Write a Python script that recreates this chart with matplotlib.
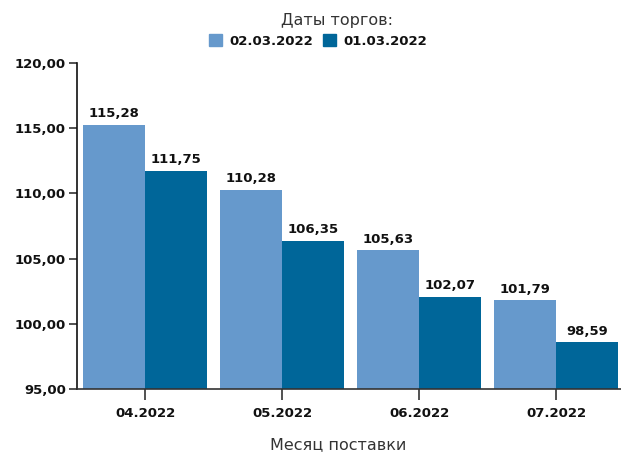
import matplotlib
matplotlib.use('Agg')
import matplotlib.pyplot as plt
import matplotlib.patches as mpatches
import numpy as np

months = ['04.2022', '05.2022', '06.2022', '07.2022']
series_names = ['02.03.2022', '01.03.2022']
vals_0203 = [115.28, 110.28, 105.63, 101.79]
vals_0103 = [111.75, 106.35, 102.07, 98.59]
y_ticks = [95, 100, 105, 110, 115, 120]

colors = ['#6699cc', '#006699']
plt.rcParams['font.family'] = ['DejaVu Sans']

W, H = 621, 455
fig = plt.figure(figsize=(W / 100, H / 100), dpi=100)
ax = fig.add_axes([77 / W, (H - 389) / H, (624.5 - 77) / W, (389 - 63) / H])

x = np.arange(len(months))
bw = 62 / 137
for vals, off, c in [(vals_0203, -bw / 2, colors[0]), (vals_0103, bw / 2, colors[1])]:
    bars = ax.bar(x + off, [v - 95 for v in vals], bw, bottom=95, color=c, linewidth=0)
    for xi, v in zip(x + off, vals):
        ax.text(xi, v + 0.35, f'{v:.2f}'.replace('.', ','), ha='center', va='bottom',
                fontsize=9.5, fontweight='bold', color='#111111')

ax.set_xlim(-0.5, len(months) - 0.5)
ax.set_ylim(95, 120)
ax.set_yticks(y_ticks)
ax.set_yticklabels([f'{t:.2f}'.replace('.', ',') for t in y_ticks], fontsize=9.5,
                   fontweight='bold', color='#111111')
ax.set_xticks(x)
ax.set_xticklabels(months, fontsize=9.5, fontweight='bold', color='#111111')
ax.tick_params(axis='y', length=6, width=1.2, color='#333333', pad=2)
ax.tick_params(axis='x', length=8, width=1.2, color='#333333', pad=5)
for s in ['top', 'right']:
    ax.spines[s].set_visible(False)
ax.spines['left'].set_linewidth(1.2)
ax.spines['bottom'].set_linewidth(1.2)
ax.spines['left'].set_color('#111111')
ax.spines['bottom'].set_color('#333333')

fig.text(338 / W, 1 - 445 / H, 'Месяц поставки', ha='center', va='center',
         fontsize=11.5, color='#333333')
fig.text(337 / W, 1 - 20 / H, 'Даты торгов:', ha='center', va='center',
         fontsize=11.5, color='#333333')

handles = [mpatches.Patch(color=c, label=n) for c, n in zip(colors, series_names)]
leg = fig.legend(handles=handles, loc='center', bbox_to_anchor=(318 / W, 1 - 41 / H),
                 ncol=2, frameon=False, handlelength=1.0, handleheight=1.0,
                 handletextpad=0.5, columnspacing=0.8, borderpad=0,
                 prop={'size': 9.5, 'weight': 'bold'})
for t in leg.get_texts():
    t.set_color('#111111')

fig.savefig('out.png', dpi=100)
